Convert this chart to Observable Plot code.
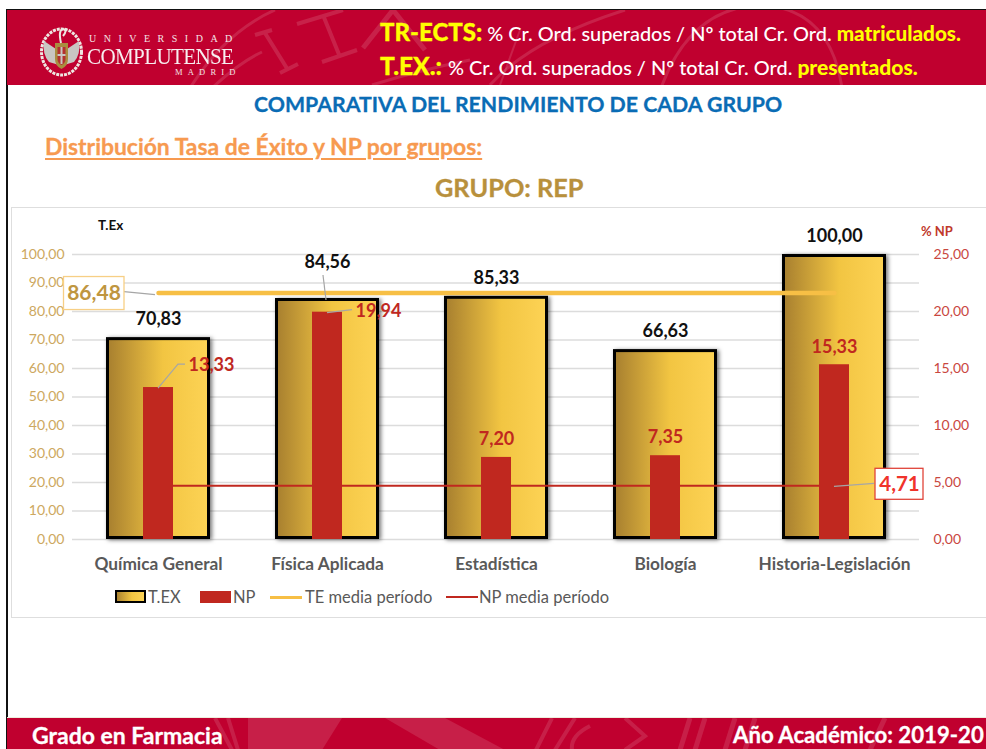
<!DOCTYPE html>
<html lang="es"><head><meta charset="utf-8">
<script src="https://cdn.jsdelivr.net/npm/d3@7"></script>
<script src="https://cdn.jsdelivr.net/npm/@observablehq/plot@0.6"></script>
<style>
html,body{margin:0;padding:0;background:#fff;overflow:hidden}
#page{position:relative;width:986px;height:749px;overflow:hidden;font-family:Lato,sans-serif}
.t{position:absolute;white-space:nowrap;line-height:1}
.band{position:absolute;left:7px;right:0;background:#c0002f;overflow:hidden}
#chart{position:absolute;left:0;top:207px}
#chart svg{overflow:visible;background:transparent}
#frame{position:absolute;left:11px;top:207px;width:990px;height:411px;border:1.5px solid #dedede;box-sizing:border-box}
.tex{filter:drop-shadow(2px 1px 2px rgba(0,0,0,.55))}
.sw{position:absolute}
.lg{position:absolute;top:589px;font-size:16.5px;color:#595959;line-height:1;white-space:nowrap}
.hv{-webkit-text-stroke:.3px currentColor}
</style></head><body>
<div id="page">
  <div style="position:absolute;left:6px;top:9px;right:0;height:1.5px;background:#111"></div>
  <div style="position:absolute;left:6px;top:9px;bottom:0;width:1.5px;background:#111"></div>
  <div class="band" style="top:10px;height:75px">
    <svg width="979" height="75" viewBox="7 10 979 75" style="position:absolute;left:0;top:0" fill="none" stroke="#fff" stroke-opacity=".13">
      <path d="M190,88 Q225,32 275,10" stroke-width="3"/>
      <path d="M212,88 Q240,62 262,52" stroke-width="3"/>
      <path d="M255,35L272,30M265,33L288,70M280,73L298,64" stroke-width="4"/>
      <path d="M297,24L343,10M323,15L340,57M322,62L357,50" stroke-width="4"/>
      <path d="M363,48L393,10M393,10L425,50" stroke-width="5"/>
      <path d="M372,85Q420,70 470,60" stroke-width="3"/>
      <path d="M490,85Q530,40 625,10" stroke-width="3"/>
      <path d="M661,88Q690,8 760,5Q830,8 842,88" stroke-width="3"/>
      <path d="M500,85L520,30" stroke-width="2"/>
    </svg>
  </div>
  <svg style="position:absolute;left:39px;top:26px" width="45" height="51" viewBox="0 0 45 51">
    <ellipse cx="22.5" cy="26" rx="20" ry="23" fill="#c0002f" stroke="#eee7e2" stroke-width="3" stroke-dasharray="3 1"/>
    <path d="M20,25L5,15Q3,28 10,36L20,39Z" fill="#c9c6c2"/>
    <path d="M25,25L40,15Q42,28 35,36L25,39Z" fill="#c9c6c2"/>
    <path d="M16,17H29V33Q29,40 22.5,43Q16,40 16,33Z" fill="#a98d3f"/>
    <path d="M18.5,21H26.5V33Q26.5,37 22.5,39Q18.5,37 18.5,33Z" fill="#b3312f"/>
    <path d="M22.5,21V38M18.5,29H26.5" stroke="#c9c6c2" stroke-width="2"/>
    <path d="M22,17Q19,4 24,3Q29,4 24,10" fill="none" stroke="#eee7e2" stroke-width="2"/>
  </svg>
  <div class="t" style="left:89px;top:33px;font:10px 'Liberation Serif',serif;letter-spacing:7.5px;color:#f3e3e6">UNIVERSIDAD</div>
  <div class="t" style="left:87px;top:43px;font:23.5px 'Liberation Serif',serif;letter-spacing:-.7px;color:#f7eef0;transform:scaleX(.896);transform-origin:0 0">COMPLUTENSE</div>
  <div class="t" style="left:175px;top:67px;font:8.5px 'Liberation Serif',serif;letter-spacing:5.2px;color:#f3e3e6">MADRID</div>

  <div class="t" style="left:380px;top:20px;color:#fff;font-size:19.9px;font-weight:500"><b class="hv" style="color:#ffff00;font-size:24px;font-weight:900">TR-ECTS:</b> <span>% Cr. Ord. superados / Nº total Cr. Ord.</span> <b style="color:#ffff00;font-size:20.7px;font-weight:900">matriculados.</b></div>
  <div class="t" style="left:380px;top:54px;color:#fff;font-size:19.9px;font-weight:500"><b class="hv" style="color:#ffff00;font-size:24.5px;font-weight:900">T.EX.:</b> <span style="margin-left:1px">% Cr. Ord. superados / Nº total Cr. Ord.</span> <b style="color:#ffff00;font-size:21px;font-weight:900">presentados.</b></div>

  <div class="t hv" style="left:254px;top:94px;color:#0a6cb5;font-size:21.3px;font-weight:700">COMPARATIVA DEL RENDIMIENTO DE CADA GRUPO</div>
  <div class="t hv" style="left:45px;top:134.5px;color:#f79a50;font-size:22.9px;font-weight:700;text-decoration:underline;text-underline-offset:3px">Distribución Tasa de Éxito y NP por grupos:</div>
  <div class="t hv" style="left:435px;top:175px;color:#b8903c;font-size:25.3px;font-weight:700">GRUPO: REP</div>

  <div id="frame"></div>
  <div id="chart"></div>

  <div class="t" style="left:98px;top:219px;font-size:13.5px;font-weight:700;color:#111">T.Ex</div>
  <div class="t" style="left:921px;top:225px;font-size:13px;font-weight:700;color:#c0392b">% NP</div>

  <svg class="sw" style="left:115px;top:590px" width="32" height="14">
    <defs><linearGradient id="lgGold"><stop offset="0" stop-color="#a77f2f"/><stop offset=".55" stop-color="#f2c542"/><stop offset="1" stop-color="#fdd355"/></linearGradient></defs>
    <rect x="1" y="1" width="29" height="11" fill="url(#lgGold)" stroke="#000" stroke-width="2"/>
  </svg>
  <div class="lg" style="left:148px">T.EX</div>
  <div class="sw" style="left:200px;top:591px;width:31px;height:12px;background:#c0281f"></div>
  <div class="lg" style="left:233px">NP</div>
  <div class="sw" style="left:270px;top:596px;width:32px;height:3px;background:#f7bf45"></div>
  <div class="lg" style="left:305px">TE media período</div>
  <div class="sw" style="left:446px;top:596px;width:32px;height:2px;background:#c0281f"></div>
  <div class="lg" style="left:479px">NP media período</div>

  <div class="band" style="top:717px;height:32px;border-top:1px solid #eed">
    <svg width="979" height="32" viewBox="7 717 979 32" style="position:absolute;left:0;top:0" fill="none" stroke="#fff" stroke-opacity=".12">
      <path d="M248,717H342L322,749H248Z" fill="#fff" fill-opacity=".12" stroke="none"/>
      <path d="M385,717H445L505,749H440Z" fill="#fff" fill-opacity=".12" stroke="none"/>
      <path d="M215,717L232,749M228,717L238,749" stroke-width="4"/>
      <path d="M552,717L536,749M575,717L555,749M590,725Q570,735 572,749M625,717L645,735L625,749" stroke-width="4"/>
      <path d="M690,717L680,749M705,717L695,749M735,717L725,749M755,717L745,749M885,717L870,749" stroke-width="5"/>
    </svg>
  </div>
  <div class="t hv" style="left:32px;top:724px;color:#fff;font-size:23px;font-weight:700">Grado en Farmacia</div>
  <div class="t hv" style="left:733px;top:724px;color:#fff;font-size:22.2px;font-weight:700">Año Académico: 2019-20</div>
</div>
<script>
const categories = ["Química General","Física Aplicada","Estadística","Biología","Historia-Legislación"];
const tasaExito = [70.83,84.56,85.33,66.63,100];
const noPresentados = [13.33,19.94,7.20,7.35,15.33];
const mediaTE = 86.48;
const mediaNP = 4.71;
const ticksTE = [0,10,20,30,40,50,60,70,80,90,100];
const ticksNP = [0,5,10,15,20,25];

const npToTe = v => v * 4;   // secondary axis: 25 NP = 100 T.Ex
const fmt = d3.formatLocale({decimal:",",thousands:".",grouping:[3]}).format(".2f");
const rows = categories.map((cat,i)=>({cat,te:tasaExito[i],np:noPresentados[i]}));
const only = (...names) => rows.filter(r=>names.includes(r.cat));

// gold gradient used by the T.EX bars
const gradient = () => {
  const svg = d3.create("svg:defs");
  const g = svg.append("linearGradient").attr("id","gold");
  [[0,"#a77f2f"],[.55,"#f2c542"],[1,"#fdd355"]].forEach(([o,c])=>g.append("stop").attr("offset",o).attr("stop-color",c));
  return svg.node();
};
// thin grey leader lines, anchored to the data with pixel offsets
const leader = (cat, value, pts) => (i, s) => {
  const cx = s.x(cat) + s.x.bandwidth()/2, cy = s.y(value);
  return d3.create("svg:path")
    .attr("d","M"+pts.map(([a,b])=>`${cx+a},${cy+b}`).join("L"))
    .attr("fill","none").attr("stroke","#a6a6a6").attr("stroke-width",1.2).node();
};
// boxed callouts for the two averages
const callout = (value, x1, x2, up, down, color) => (i, s) =>
  d3.create("svg:rect").attr("x",x1).attr("width",x2-x1)
    .attr("y",s.y(value)-up).attr("height",up+down)
    .attr("fill","#fff").attr("stroke",color).attr("stroke-width",1.3).node();

const teRow = [mediaTE], npRow = [mediaNP];
const chart = Plot.plot({
  width:986, height:410,
  marginLeft:72, marginRight:67, marginTop:47, marginBottom:78,
  style:{fontFamily:"Lato,sans-serif",background:"transparent"},
  x:{domain:categories,paddingInner:.386,paddingOuter:.193,label:null},
  y:{domain:[0,100],label:null},
  marks:[
    gradient,
    Plot.ruleY(ticksTE,{stroke:"#dcdcdc",strokeWidth:1.5}),
    Plot.barY(rows,{x:"cat",y:"te",fill:"url(#gold)",stroke:"#000",strokeWidth:3,className:"tex",inset:1.5}),
    Plot.line(categories,{x:d=>d,y:()=>npToTe(mediaNP),stroke:"#c0281f",strokeWidth:2}),
    Plot.barY(rows,{x:"cat",y:d=>npToTe(d.np),fill:"#c0281f",insetLeft:37,insetRight:37}),
    Plot.line(categories,{x:d=>d,y:()=>mediaTE,stroke:"#f7bf45",strokeWidth:4.5}),
    Plot.axisY({ticks:ticksTE,tickFormat:fmt,anchor:"left",tickSize:0,tickPadding:8,fontSize:14,color:"#cda860",label:null}),
    Plot.axisY({ticks:ticksNP.map(npToTe),tickFormat:d=>fmt(d/4),anchor:"right",tickSize:0,tickPadding:14,fontSize:14,color:"#c9473f",label:null}),
    Plot.axisX({tickSize:0,tickPadding:18,fontSize:17.3,fontWeight:700,color:"#595959",label:null}),
    leader("Química General",npToTe(13.33),[[0,1],[20,-23],[27,-23]]),
    leader("Física Aplicada",84.56,[[-4,-23],[-1,2]]),
    leader("Física Aplicada",npToTe(19.94),[[0,1],[25,-2]]),
    leader("Historia-Legislación",npToTe(mediaNP),[[0,1],[40,-2]]),
    Plot.text(only("Química General","Estadística","Biología","Historia-Legislación"),{x:"cat",y:"te",text:d=>fmt(d.te),dy:-18,fontSize:18,fontWeight:700,fill:"#111"}),
    Plot.text(only("Física Aplicada"),{x:"cat",y:"te",text:d=>fmt(d.te),dy:-36,fontSize:18,fontWeight:700,fill:"#111"}),
    Plot.text(only("Estadística","Biología","Historia-Legislación"),{x:"cat",y:d=>npToTe(d.np),text:d=>fmt(d.np),dy:-18,fontSize:18,fontWeight:700,fill:"#c0281f"}),
    Plot.text(only("Química General"),{x:"cat",y:d=>npToTe(d.np),text:d=>fmt(d.np),dx:53,dy:-22,fontSize:18,fontWeight:700,fill:"#c0281f"}),
    Plot.text(only("Física Aplicada"),{x:"cat",y:d=>npToTe(d.np),text:d=>fmt(d.np),dx:51,dy:-1,fontSize:18,fontWeight:700,fill:"#c0281f"}),
    (i,s)=>d3.create("svg:path").attr("d",`M124,${s.y(mediaTE)-1}L155,${s.y(mediaTE)+2}`).attr("stroke","#a6a6a6").attr("stroke-width",1.2).node(),
    callout(mediaTE,63.5,124,16,17,"#f7cf85"),
    callout(npToTe(mediaNP),875,923,17,14,"#e0443a"),
    Plot.text(teRow,{y:d=>d,frameAnchor:"left",textAnchor:"middle",dx:21.5,text:d=>fmt(d),fontSize:21,fontWeight:700,fill:"#bf9640"}),
    Plot.text(npRow,{y:d=>npToTe(d),frameAnchor:"left",textAnchor:"middle",dx:827,dy:-1,text:d=>fmt(d),fontSize:20.5,fontWeight:700,fill:"#f0332b"})
  ]
});
document.getElementById("chart").append(chart);
</script>
</body></html>
